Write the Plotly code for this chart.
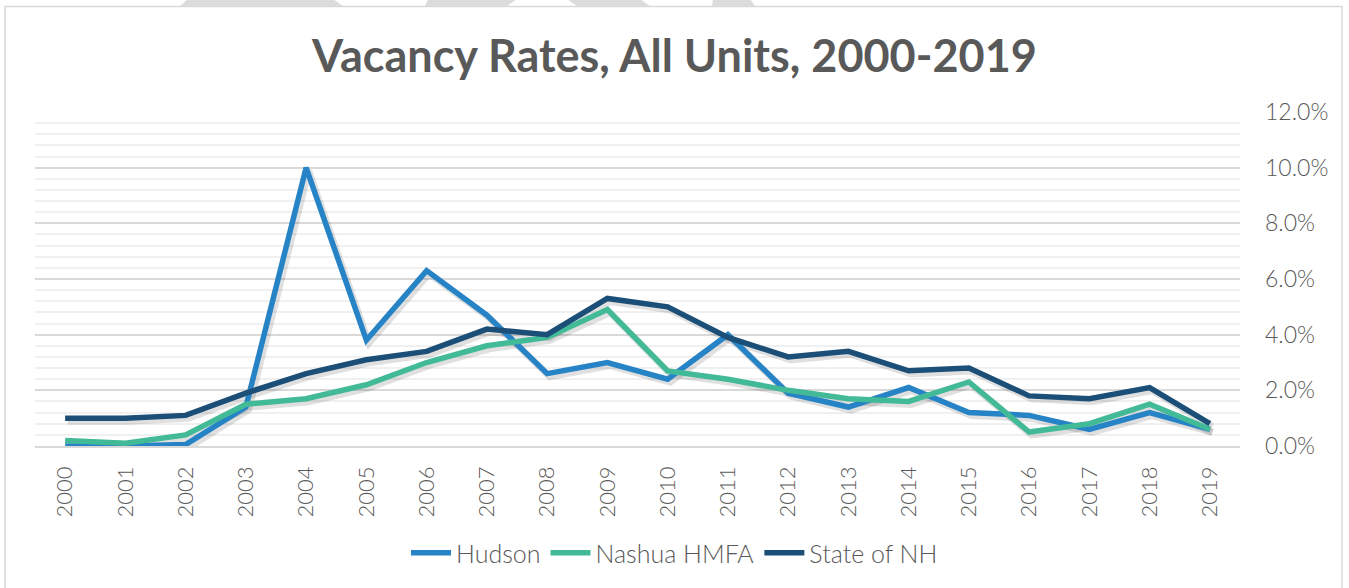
import plotly.graph_objects as go

years = [str(y) for y in range(2000, 2020)]
hudson = [0.0, 0.0, 0.05, 1.4, 10.0, 3.8, 6.3, 4.7, 2.6, 3.0, 2.4, 4.0, 1.9, 1.4, 2.1, 1.2, 1.1, 0.6, 1.2, 0.6]
nashua = [0.2, 0.1, 0.4, 1.5, 1.7, 2.2, 3.0, 3.6, 3.9, 4.9, 2.7, 2.4, 2.0, 1.7, 1.6, 2.3, 0.5, 0.8, 1.5, 0.6]
state_nh = [1.0, 1.0, 1.1, 1.9, 2.6, 3.1, 3.4, 4.2, 4.0, 5.3, 5.0, 3.9, 3.2, 3.4, 2.7, 2.8, 1.8, 1.7, 2.1, 0.8]
series_names = ["Hudson", "Nashua HMFA", "State of NH"]
series_colors = ["#2683C6", "#42BA97", "#1B4F78"]
y_ticks = [0, 2, 4, 6, 8, 10, 12]
y_tick_labels = ["0.0%", "2.0%", "4.0%", "6.0%", "8.0%", "10.0%", "12.0%"]

FONT = "Century Gothic, Lato, sans-serif"
TXT = "#595959"

W, H = 1349, 588
L, R, T, B = 35, 1240, 112, 446
plot_w, plot_h = R - L, B - T
n = len(years)
dx = 2.5 * n / plot_w          # shadow offset, right
dy = 3.0 * 12 / plot_h         # shadow offset, down

fig = go.Figure()
fig.add_trace(go.Scatter(x=years, y=[None] * n, xaxis="x", yaxis="y",
                         showlegend=False, hoverinfo="skip"))

data = [hudson, nashua, state_nh]
for vals in data:
    fig.add_trace(go.Scatter(x=years, y=vals, mode="lines", xaxis="x2", yaxis="y2",
                             line=dict(color="rgba(0,0,0,0.12)", width=7),
                             showlegend=False, hoverinfo="skip"))
for vals, name, col in zip(data, series_names, series_colors):
    fig.add_trace(go.Scatter(x=years, y=vals, mode="lines", name=name, xaxis="x3", yaxis="y3",
                             line=dict(color=col, width=5.5)))

common_x = dict(type="category", categoryorder="array", categoryarray=years)
fig.update_layout(
    width=W, height=H,
    paper_bgcolor="white", plot_bgcolor="white",
    margin=dict(l=L, r=W - R, t=T, b=H - B, autoexpand=False),
    font=dict(family=FONT, color=TXT),
    title=dict(text="<b>Vacancy Rates, All Units, 2000-2019</b>", x=0.5, xref="container",
               xanchor="center", y=1 - 56 / H, yref="container", yanchor="middle",
               font=dict(size=45, color=TXT, family=FONT)),
    xaxis=dict(**common_x, range=[-0.5, n - 0.5], tickangle=-90, showgrid=False,
               showline=True, linecolor="#D9D9D9", linewidth=1.5, ticks="",
               ticklabelstandoff=10, tickfont=dict(size=22, color=TXT, weight=300),
               zeroline=False, automargin=False),
    yaxis=dict(range=[0, 12], side="right", tickmode="array", tickvals=y_ticks,
               ticktext=y_tick_labels,
               showgrid=True, gridcolor="#D9D9D9", gridwidth=1.5, zeroline=False,
               showline=False, ticks="", ticklabelstandoff=24, automargin=False,
               tickfont=dict(size=23, color=TXT, weight=300),
               minor=dict(dtick=0.4, tick0=0, showgrid=True, gridcolor="#F0F0F0", gridwidth=1.5)),
    xaxis2=dict(**common_x, overlaying="x", range=[-0.5 - dx, n - 0.5 - dx], visible=False),
    yaxis2=dict(overlaying="y", range=[dy, 12 + dy], visible=False),
    xaxis3=dict(**common_x, overlaying="x", range=[-0.5, n - 0.5], visible=False),
    yaxis3=dict(overlaying="y", range=[0, 12], visible=False),
    legend=dict(orientation="h", x=0.5, xref="container", xanchor="center",
                y=1 - 553 / H, yref="container", yanchor="middle",
                font=dict(size=25, color=TXT, family=FONT, weight=300), itemwidth=40,
                bgcolor="rgba(0,0,0,0)"),
    showlegend=True,
)

def pxx(px):
    return (px - L) / plot_w

def pxy(py):
    return (B - py) / plot_h

shapes = [dict(type="rect", xref="paper", yref="paper",
               x0=pxx(5), x1=pxx(1342), y0=pxy(620), y1=pxy(6.5),
               line=dict(color="#D9D9D9", width=1.5), fillcolor="rgba(0,0,0,0)", layer="below")]
watermark = [
    [(188, -1), (333, -1), (343, 6), (180, 6)],
    [(428, -1), (517, -1), (507, 6), (425, 6)],
    [(567, -1), (640, -1), (650, 6), (577, 6)],
    [(713, -1), (750, -1), (755, 6), (712, 6)],
]
for poly in watermark:
    path = "M " + " L ".join("{},{}".format(pxx(a), pxy(b)) for a, b in poly) + " Z"
    shapes.append(dict(type="path", xref="paper", yref="paper", path=path,
                       fillcolor="#DCDCDC", line=dict(width=0)))
fig.update_layout(shapes=shapes)

fig.write_html("out.html", config={"displayModeBar": False},
               post_script="document.body.style.margin='0';document.body.style.overflow='hidden';")
